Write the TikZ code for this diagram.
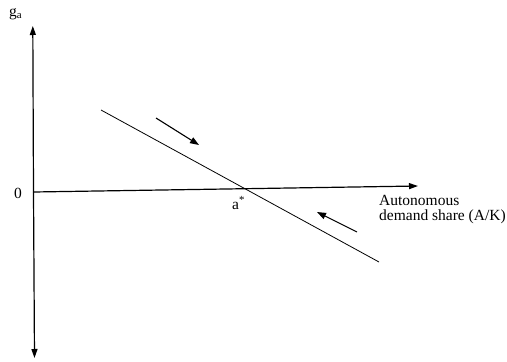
\documentclass[tikz,border=0pt]{standalone}
\usepackage{fontspec}
\setmainfont{Liberation Serif}
\usetikzlibrary{arrows.meta}
\begin{document}
\begin{tikzpicture}[x=1pt,y=-1pt,
  axis/.style={line width=1.2pt,-{Triangle[length=9pt,width=6pt]}},
  dirarrow/.style={line width=1.1pt,-{Triangle[length=9pt,width=6.5pt]}},
  curve/.style={line width=0.8pt},
  lbl/.style={inner sep=0pt,font=\fontsize{15.5}{17}\selectfont}]
\useasboundingbox (0,0) rectangle (507,362);
% axes
\coordinate (vtop) at (32.8,26);
\coordinate (vbot) at (34.5,358);
\coordinate (vmid) at (33.5,192);
\coordinate (hend) at (418,186);
\draw[axis] (vmid) -- (vtop);
\draw[axis] (vmid) -- (vbot);
\draw[axis] (vmid) -- (hend);
% downward line
\coordinate (ls) at (101,110);
\coordinate (le) at (379,262);
\draw[curve] (ls) -- (le);
% direction arrows
\coordinate (a1s) at (156,118);
\coordinate (a1e) at (199,145);
\coordinate (a2s) at (357,232);
\coordinate (a2e) at (317,212);
\draw[dirarrow] (a1s) -- (a1e);
\draw[dirarrow] (a2s) -- (a2e);
% labels
\node[lbl,anchor=base west] (ga) at (9,16) {g\textsubscript{a}};
\node[lbl,anchor=base west] (zero) at (14,198) {0};
\node[lbl,anchor=base west] (astar) at (232,209) {a\textsuperscript{*}};
\node[lbl,anchor=base west] (auto) at (379,205) {Autonomous};
\node[lbl,anchor=base west] (dem) at (379,220) {demand share (A/K)};
\end{tikzpicture}
\end{document}
